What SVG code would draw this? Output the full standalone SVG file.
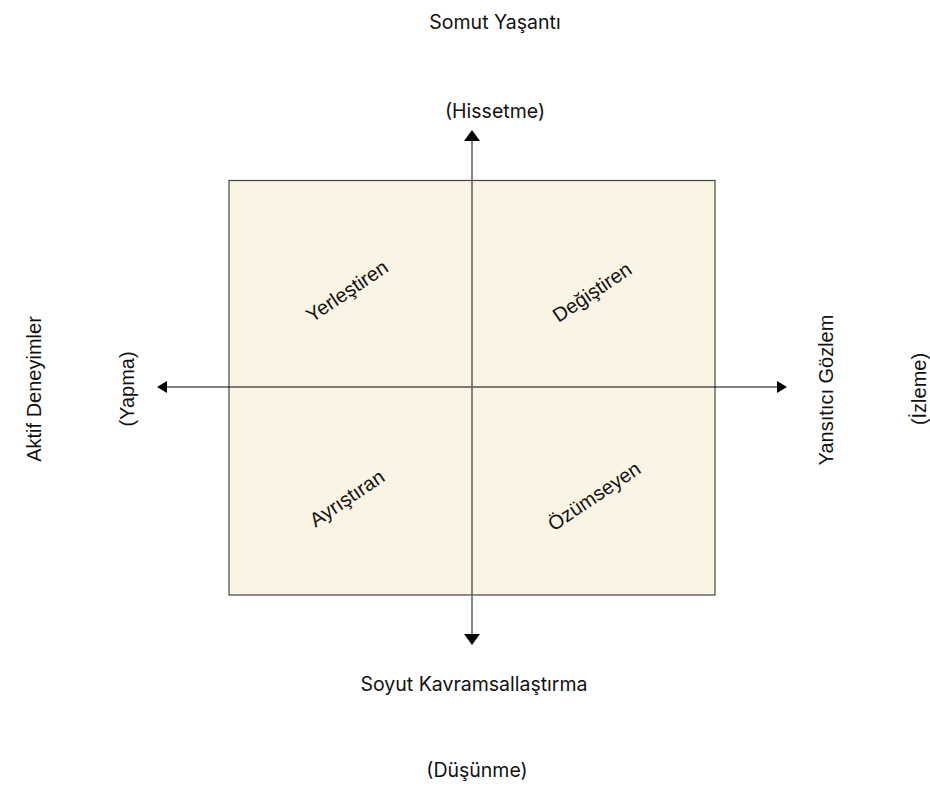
<svg xmlns="http://www.w3.org/2000/svg" width="930" height="790" viewBox="0 0 930 790">
<style>
.ax{font-family:Inter,"Liberation Sans",sans-serif;font-size:19.5px;fill:#111;text-anchor:middle}
.sd{font-family:"Liberation Sans",Arial,sans-serif;font-size:20px;fill:#111;text-anchor:middle}
.q{font-family:"Liberation Sans",Arial,sans-serif;font-size:20px;fill:#111;text-anchor:middle;dominant-baseline:central}
</style>
<defs>
<marker id="ah" viewBox="0 0 10 10" refX="0" refY="5" markerUnits="userSpaceOnUse" markerWidth="10" markerHeight="12" preserveAspectRatio="none" orient="auto-start-reverse"><path d="M0,0 L10,5 L0,10 z" fill="#000"/></marker>
<marker id="av" viewBox="0 0 10 10" refX="0" refY="5" markerUnits="userSpaceOnUse" markerWidth="11" markerHeight="16" preserveAspectRatio="none" orient="auto-start-reverse"><path d="M0,0 L10,5 L0,10 z" fill="#000"/></marker>
</defs>
<rect width="930" height="790" fill="#fff"/>
<g id="quadrant-box">
<rect x="229" y="180.5" width="486" height="414.5" fill="#FAF4E5" stroke="#444" stroke-width="1.2"/>
</g>
<g id="connectors">
<path d="M167,387 L777,387" stroke="#000" stroke-width="1.2" fill="none" marker-start="url(#ah)" marker-end="url(#ah)"/>
<path d="M472,141 L472,634" stroke="#666" stroke-width="1.6" fill="none" marker-start="url(#av)" marker-end="url(#av)"/>
</g>
<g id="q-yerlestiren"><text class="q" transform="translate(347,291) rotate(-34)">Yerleştiren</text></g>
<g id="q-degistiren"><text class="q" transform="translate(592,292) rotate(-34)">Değiştiren</text></g>
<g id="q-ayristiran"><text class="q" transform="translate(347,498) rotate(-34)">Ayrıştıran</text></g>
<g id="q-ozumseyen"><text class="q" transform="translate(594,496) rotate(-34)">Özümseyen</text></g>
<g id="top-label"><text class="ax" x="495" y="29">Somut Yaşantı</text></g>
<g id="top-sub"><text class="ax" x="495" y="118">(Hissetme)</text></g>
<g id="bottom-label"><text class="ax" x="474" y="691">Soyut Kavramsallaştırma</text></g>
<g id="bottom-sub"><text class="ax" x="477" y="777">(Düşünme)</text></g>
<g id="left-label"><text class="sd" transform="translate(41,389) rotate(-90)">Aktif Deneyimler</text></g>
<g id="left-sub"><text class="sd" transform="translate(134,389) rotate(-90)">(Yapma)</text></g>
<g id="right-label"><text class="sd" transform="translate(833,390) rotate(-90)">Yansıtıcı Gözlem</text></g>
<g id="right-sub"><text class="sd" transform="translate(926,389) rotate(-90)">(İzleme)</text></g>
</svg>
